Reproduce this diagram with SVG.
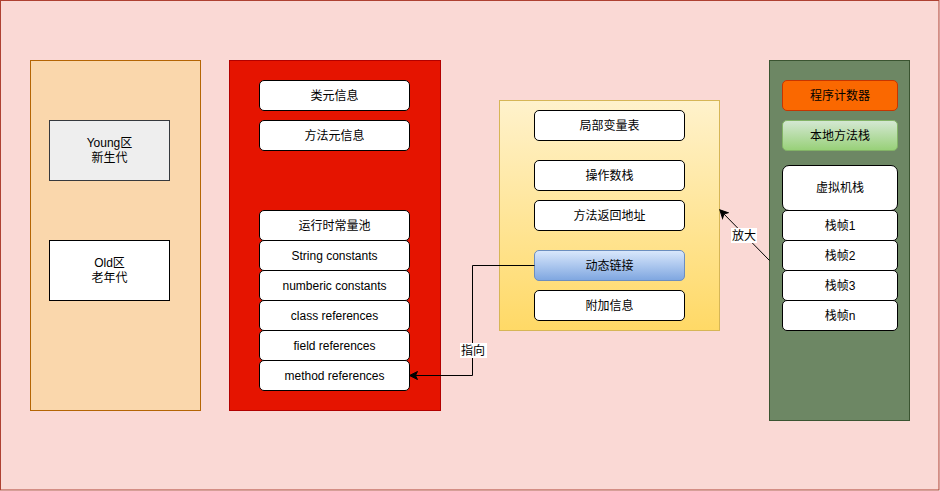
<svg xmlns="http://www.w3.org/2000/svg" width="940" height="491" viewBox="0 0 940 491">
  <defs>
    <linearGradient id="gYellow" x1="0" y1="0" x2="0" y2="1">
      <stop offset="0" stop-color="#fff2cc"/>
      <stop offset="1" stop-color="#ffd966"/>
    </linearGradient>
    <linearGradient id="gBlue" x1="0" y1="0" x2="0" y2="1">
      <stop offset="0" stop-color="#dae8fc"/>
      <stop offset="1" stop-color="#7ea6e0"/>
    </linearGradient>
    <linearGradient id="gGreen" x1="0" y1="0" x2="0" y2="1">
      <stop offset="0" stop-color="#d5e8d4"/>
      <stop offset="1" stop-color="#97d077"/>
    </linearGradient>
    <marker id="arrow" markerWidth="10" markerHeight="10" refX="8" refY="5" orient="auto" markerUnits="userSpaceOnUse">
      <path d="M1,1 L9,5 L1,9 L3,5 Z" fill="#000" stroke="#000" stroke-width="1"/>
    </marker>
    <style>
      text { font-family: "Liberation Sans", "Noto Sans CJK SC", sans-serif; font-size: 12px; fill: #000; text-anchor: middle; dominant-baseline: central; }
      .item { fill: #ffffff; stroke: #000000; stroke-width: 1; }
      .edge { fill: none; stroke: #000; stroke-width: 1; }
      .lbl { fill: #ffffff; }
    </style>
  </defs>

  <!-- backdrop -->
  <rect x="0.5" y="0.5" width="938.5" height="489.5" fill="#fad9d5" stroke="#ae4132"/>

  <!-- heap -->
  <g id="heap">
    <rect x="30.5" y="60.5" width="170" height="350" fill="#fad7ac" stroke="#b46504"/>
  </g>
  <g id="young">
    <rect x="49.5" y="120.5" width="120" height="60" fill="#eeeeee" stroke="#36393d"/>
    <text x="109.5" y="143">Young区</text>
    <text x="109.5" y="158">新生代</text>
  </g>
  <g id="old">
    <rect x="49.5" y="240.5" width="120" height="60" fill="#ffffff" stroke="#000"/>
    <text x="109.5" y="263">Old区</text>
    <text x="109.5" y="278">老年代</text>
  </g>

  <!-- method area -->
  <g id="method-area">
    <rect x="229.5" y="60.5" width="211" height="350" fill="#e51400" stroke="#b20000"/>
  </g>
  <g id="class-meta"><rect class="item" x="259.5" y="80.5" width="150" height="30" rx="4.5"/><text x="334.5" y="95.5">类元信息</text></g>
  <g id="method-meta"><rect class="item" x="259.5" y="120.5" width="150" height="30" rx="4.5"/><text x="334.5" y="135.5">方法元信息</text></g>
  <g id="rt-pool"><rect class="item" x="259.5" y="210.5" width="150" height="30" rx="4.5"/><text x="334.5" y="225.5">运行时常量池</text></g>
  <g id="string-const"><rect class="item" x="259.5" y="240.5" width="150" height="30" rx="4.5"/><text x="334.5" y="255.5">String constants</text></g>
  <g id="num-const"><rect class="item" x="259.5" y="270.5" width="150" height="30" rx="4.5"/><text x="334.5" y="285.5">numberic constants</text></g>
  <g id="class-ref"><rect class="item" x="259.5" y="300.5" width="150" height="30" rx="4.5"/><text x="334.5" y="315.5">class references</text></g>
  <g id="field-ref"><rect class="item" x="259.5" y="330.5" width="150" height="30" rx="4.5"/><text x="334.5" y="345.5">field references</text></g>
  <g id="method-ref"><rect class="item" x="259.5" y="360.5" width="150" height="30" rx="4.5"/><text x="334.5" y="375.5">method references</text></g>

  <!-- stack frame detail -->
  <g id="frame">
    <rect x="499.5" y="100.5" width="220" height="230" fill="url(#gYellow)" stroke="#d6b656"/>
  </g>
  <g id="locals"><rect class="item" x="534.5" y="110.5" width="150" height="30" rx="4.5"/><text x="609.5" y="125.5">局部变量表</text></g>
  <g id="operand"><rect class="item" x="534.5" y="160.5" width="150" height="30" rx="4.5"/><text x="609.5" y="175.5">操作数栈</text></g>
  <g id="ret-addr"><rect class="item" x="534.5" y="200.5" width="150" height="30" rx="4.5"/><text x="609.5" y="215.5">方法返回地址</text></g>
  <g id="dyn-link"><rect x="534.5" y="250.5" width="150" height="30" rx="4.5" fill="url(#gBlue)" stroke="#6c8ebf"/><text x="609.5" y="265.5">动态链接</text></g>
  <g id="extra"><rect class="item" x="534.5" y="290.5" width="150" height="30" rx="4.5"/><text x="609.5" y="305.5">附加信息</text></g>

  <!-- thread-private area -->
  <g id="threads">
    <rect x="769.5" y="60.5" width="140" height="360" fill="#6d8764" stroke="#3a5431"/>
  </g>
  <g id="pc"><rect x="782.5" y="80.5" width="115" height="30" rx="4.5" fill="#fa6800" stroke="#c73500"/><text x="840" y="95.5">程序计数器</text></g>
  <g id="native"><rect x="782.5" y="120.5" width="115" height="30" rx="4.5" fill="url(#gGreen)" stroke="#82b366"/><text x="840" y="135.5">本地方法栈</text></g>
  <g id="vm-stack"><rect class="item" x="782.5" y="165.5" width="115" height="45" rx="6.5"/><text x="840" y="188">虚拟机栈</text></g>
  <g id="frame1"><rect class="item" x="782.5" y="210.5" width="115" height="30" rx="4.5"/><text x="840" y="225.5">栈帧1</text></g>
  <g id="frame2"><rect class="item" x="782.5" y="240.5" width="115" height="30" rx="4.5"/><text x="840" y="255.5">栈帧2</text></g>
  <g id="frame3"><rect class="item" x="782.5" y="270.5" width="115" height="30" rx="4.5"/><text x="840" y="285.5">栈帧3</text></g>
  <g id="framen"><rect class="item" x="782.5" y="300.5" width="115" height="30" rx="4.5"/><text x="840" y="315.5">栈帧n</text></g>

  <!-- connectors -->
  <g id="edges">
    <path class="edge" d="M534.5,265.5 H472.5 V375.5 H410.5" marker-end="url(#arrow)"/>
    <rect class="lbl" x="460" y="343" width="27" height="15"/>
    <text x="473" y="350.5">指向</text>
    <path class="edge" d="M769.5,260.5 L720.5,210.5" marker-end="url(#arrow)"/>
    <rect class="lbl" x="731" y="228" width="26" height="15"/>
    <text x="744" y="235.5">放大</text>
  </g>
</svg>
